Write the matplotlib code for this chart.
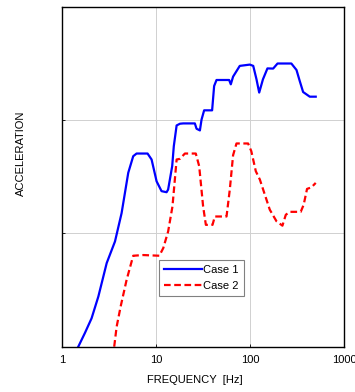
import matplotlib
matplotlib.use("Agg")
import matplotlib.pyplot as plt

plt.rcParams['font.family'] = ['Liberation Sans', 'DejaVu Sans']

# Case 1 (solid blue)
freq1 = [1.48, 1.74, 2.05, 2.42, 2.97, 3.64, 4.28, 5.04, 5.69, 6.18, 8.09, 8.93,
         10.1, 11.4, 12.9, 13.4, 14.8, 15.4, 16.5, 17.9, 19.4, 25.8, 26.9, 29.2,
         30.4, 32.4, 39.4, 41.4, 43.9, 59.8, 62.3, 65.9, 77.6, 99.3, 108, 117,
         125, 137, 153, 176, 196, 275, 312, 338, 367, 432, 500]
acc1 = [1.0, 1.32, 1.78, 2.77, 5.47, 8.49, 15.1, 34.3, 48.0, 50.7, 50.7, 44.9,
        28.8, 23.6, 23.1, 24.4, 39.2, 58.9, 89.7, 92.9, 93.5, 93.5, 83.9, 81.1,
        101, 122, 122, 200, 226, 226, 207, 242, 301, 309, 301, 229,
        175, 229, 286, 285, 316, 316, 277, 221, 177, 161, 161]

# Case 2 (dashed red)
freq2 = [3.57, 3.79, 4.18, 4.84, 5.69, 7.28, 10.8, 11.9, 13.4, 14.9, 16.5, 17.9,
         20.2, 26.4, 28.7, 31.6, 33.8, 39.8, 42.1, 56.1, 60.8, 65.9, 71.6, 95.2,
         103, 115, 127, 162, 191, 221, 240, 264, 346, 372, 404, 450, 500]
acc2 = [1.0, 1.50, 2.26, 3.89, 6.35, 6.44, 6.35, 7.43, 10.4, 17.3, 44.9, 45.5,
        50.7, 50.7, 39.2, 17.3, 11.9, 11.9, 14.1, 14.1, 24.4, 49.0, 62.2, 62.2,
        53.2, 35.4, 29.9, 16.2, 12.8, 11.7, 14.6, 15.5, 15.5, 17.9, 24.7, 25.5, 27.9]

xticks = [1, 10, 100, 1000]
xtick_labels = ['1', '10', '100', '1000']

fig = plt.figure(figsize=(3.55, 3.92), dpi=100)
ax = fig.add_axes([0.1755, 0.1156, 0.7935, 0.867])

ax.plot(freq1, acc1, color='#0000ff', lw=1.6, label='Case 1')
ax.plot(freq2, acc2, color='#ff0000', lw=1.6, ls=(0, (3, 1.6)), label='Case 2')

ax.set_xscale('log')
ax.set_yscale('log')
ax.set_xlim(1, 1000)
ax.set_ylim(1, 1000)
ax.set_xticks(xticks)
ax.set_xticklabels(xtick_labels, fontsize=8)
ax.set_xticks([], minor=True)
ax.set_yticks([10, 100])
ax.set_yticklabels([])
ax.set_yticks([], minor=True)
ax.tick_params(axis='both', length=2, direction='in', width=0.6, pad=6)
ax.grid(True, color='#d0d0d0', lw=0.7)
for s in ax.spines.values():
    s.set_linewidth(1.0)

ax.set_xlabel('FREQUENCY  [Hz]', fontsize=8)
ax.xaxis.set_label_coords(0.469, -0.083)
ax.set_ylabel('ACCELERATION', fontsize=8)
ax.yaxis.set_label_coords(-0.128, 0.57)

leg = ax.legend(loc='lower left', bbox_to_anchor=(0.344, 0.149, 0.305, 0.104),
                fontsize=8, fancybox=False, framealpha=1, edgecolor='#808080',
                handlelength=3.4, handletextpad=0.1, borderpad=0.45, labelspacing=0.55,
                borderaxespad=0)
leg.get_frame().set_linewidth(0.8)

fig.savefig('out.png', dpi=100)
